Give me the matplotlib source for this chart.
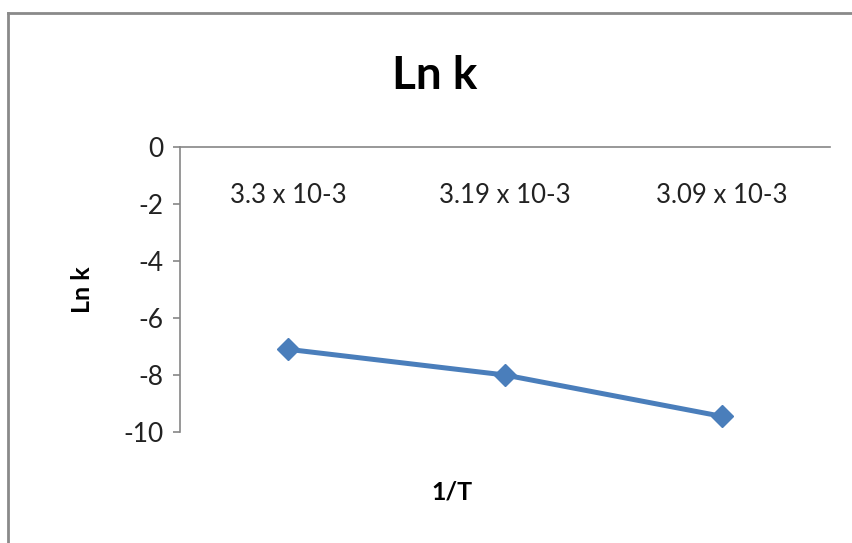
import matplotlib
matplotlib.use('Agg')
import matplotlib.pyplot as plt
from matplotlib.lines import Line2D

categories = ['3.3 x 10-3', '3.19 x 10-3', '3.09 x 10-3']
ln_k = [-7.1, -8.0, -9.45]
y_ticks = [0, -2, -4, -6, -8, -10]

plt.rcParams['font.family'] = ['Lato', 'DejaVu Sans']

W, H = 852, 543
fig = plt.figure(figsize=(W / 100, H / 100), dpi=100)
ax = fig.add_axes([180 / W, 1 - 432 / H, 650 / W, 285 / H])

x = list(range(len(categories)))
ax.plot(x, ln_k, color='#4a7ebb', lw=3.6, marker='D', ms=11.5,
        solid_capstyle='round')

ax.set_xlim(-0.5, len(categories) - 0.5)
ax.set_ylim(-10, 0)
ax.set_yticks(y_ticks)
ax.set_yticklabels([str(v) for v in y_ticks])

axis_grey = '#868686'
for s in ['right', 'bottom']:
    ax.spines[s].set_visible(False)
for s in ['left', 'top']:
    ax.spines[s].set_color(axis_grey)
    ax.spines[s].set_linewidth(1.2)

# category labels sit just under the zero line
ax.xaxis.set_ticks_position('top')
ax.set_xticks(x)
ax.set_xticklabels(categories)
ax.tick_params(axis='x', length=0, labeltop=True, labelbottom=False,
               pad=-44, labelsize=18.5, colors='#222222')
ax.tick_params(axis='y', direction='out', length=5, width=1.2,
               color=axis_grey, pad=7, labelsize=19, labelcolor='#222222')

fig.text(435 / W, 1 - 76 / H, 'Ln k', ha='center', va='center',
         fontsize=33, fontweight='bold')
fig.text(82 / W, 1 - 290 / H, 'Ln k', ha='center', va='center',
         rotation=90, fontsize=18, fontweight='bold')
fig.text(452 / W, 1 - 492 / H, '1/T', ha='center', va='center',
         fontsize=18, fontweight='bold')

# chart area frame (top and left edges)
frame = '#8a8a8a'
fig.add_artist(Line2D([8 / W, 1.0], [1 - 13 / H, 1 - 13 / H],
                      color=frame, lw=2, transform=fig.transFigure))
fig.add_artist(Line2D([8 / W, 8 / W], [0.0, 1 - 13 / H],
                      color=frame, lw=2, transform=fig.transFigure))

fig.savefig('out.png', dpi=100)
